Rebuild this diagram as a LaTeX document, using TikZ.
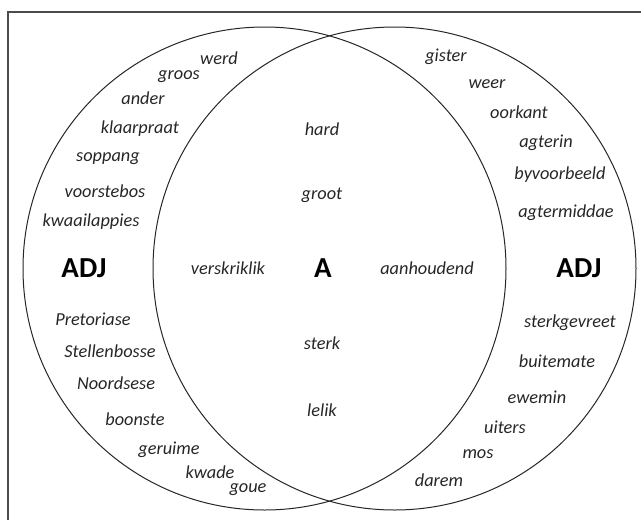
\documentclass[tikz,border=0pt]{standalone}
\usepackage{fontspec}
\setmainfont{Carlito}
\begin{document}
\begin{tikzpicture}[x=1pt,y=-1pt,
  word/.style={font=\fontsize{18.3}{18.3}\selectfont\itshape, inner sep=0pt, text=black!85},
  big/.style={font=\fontsize{29}{29}\selectfont\bfseries, inner sep=0pt},
  ring/.style={draw=black!85, line width=1pt},
  frame/.style={draw=black!70, line width=1.3pt}]
\useasboundingbox (0,0) rectangle (641,520);
\draw[frame] (8,520) -- (8,12) -- (641,12);
\draw[ring] (264.5,268.5) circle (241.5);
\draw[ring] (394.5,268.5) circle (241.5);
% left
\node[word] (werd) at (219,58) {werd};
\node[word] (groos) at (179,77) {groos};
\node[word] (ander) at (143,98) {ander};
\node[word] (klaarpraat) at (140,129) {klaarpraat};
\node[word] (soppang) at (108,159) {soppang};
\node[word] (voorstebos) at (105,191) {voorstebos};
\node[word] (kwaailappies) at (91,222) {kwaailappies};
\node[big] (adjl) at (84,268) {ADJ};
\node[word] (pretoriase) at (93,319) {Pretoriase};
\node[word] (stellenbosse) at (110,351) {Stellenbosse};
\node[word] (noordsese) at (116,383) {Noordsese};
\node[word] (boonste) at (135,419) {boonste};
\node[word] (geruime) at (169,450) {geruime};
\node[word] (kwade) at (210,472) {kwade};
\node[word] (goue) at (248,490) {goue};
% middle
\node[word] (hard) at (322,129) {hard};
\node[word] (groot) at (322,195) {groot};
\node[word] (verskriklik) at (228,268) {verskriklik};
\node[big] (A) at (323,268) {A};
\node[word] (aanhoudend) at (427,268) {aanhoudend};
\node[word] (sterk) at (322,343) {sterk};
\node[word] (lelik) at (322,410) {lelik};
% right
\node[word] (gister) at (446,57) {gister};
\node[word] (weer) at (487,84) {weer};
\node[word] (oorkant) at (519,112) {oorkant};
\node[word] (agterin) at (546,143) {agterin};
\node[word] (byvoorbeeld) at (560,175) {byvoorbeeld};
\node[word] (agtermiddae) at (566,213) {agtermiddae};
\node[big] (adjr) at (579,268) {ADJ};
\node[word] (sterkgevreet) at (570,323) {sterkgevreet};
\node[word] (buitemate) at (557,361) {buitemate};
\node[word] (ewemin) at (537,397) {ewemin};
\node[word] (uiters) at (505,427) {uiters};
\node[word] (mos) at (478,454) {mos};
\node[word] (darem) at (439,480) {darem};
\end{tikzpicture}
\end{document}
